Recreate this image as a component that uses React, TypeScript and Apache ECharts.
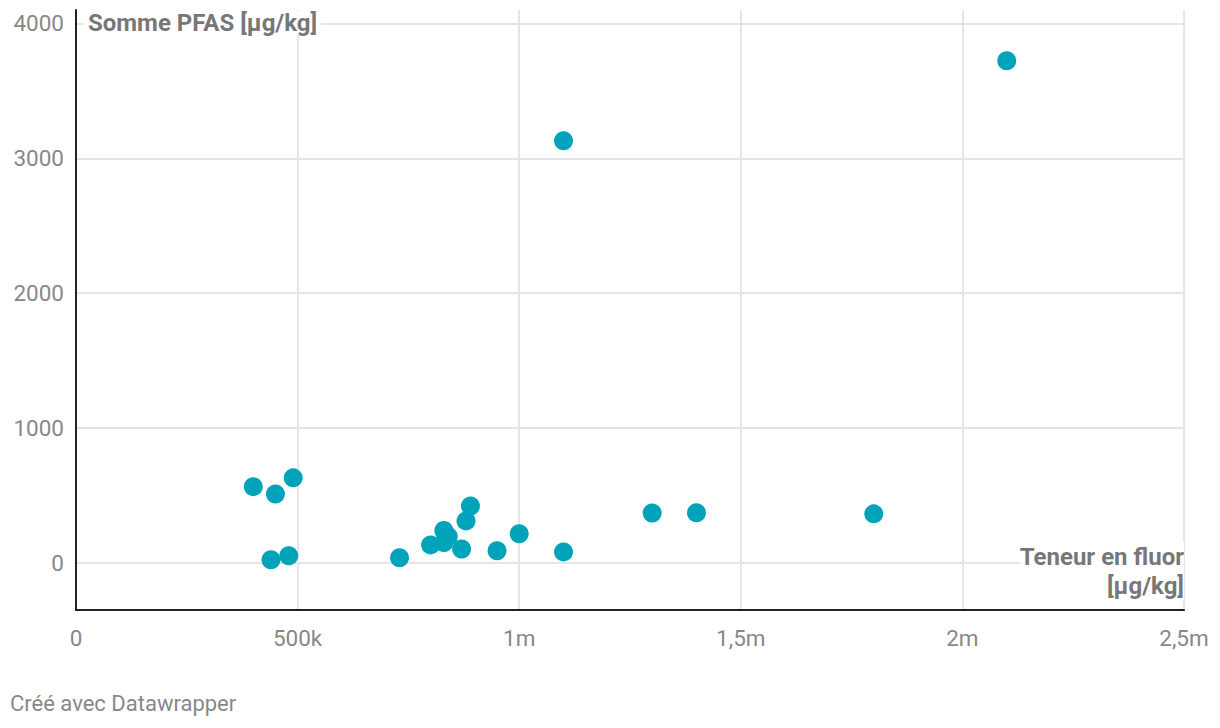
import React, { useEffect, useRef } from "react";
import * as echarts from "echarts";

const fluor = [400000, 450000, 490000, 440000, 480000, 730000, 800000, 830000, 840000, 830000, 870000, 880000, 890000, 950000, 1000000, 1100000, 1300000, 1400000, 1800000, 1100000, 2100000];
const pfas = [565, 510, 630, 22, 52, 37, 133, 240, 195, 150, 103, 311, 422, 89, 215, 81, 370, 372, 363, 3131, 3723];
const yTicks = [0, 1000, 2000, 3000, 4000];
const xTickLabels: Record<number, string> = { 0: "0", 500000: "500k", 1000000: "1m", 1500000: "1,5m", 2000000: "2m", 2500000: "2,5m" };
const yTitle = "Somme PFAS [µg/kg]";
const xTitle = "Teneur en fluor\n[µg/kg]";
const credit = "Créé avec Datawrapper";

export default function App() {
  const ref = useRef<HTMLDivElement>(null);
  useEffect(() => {
    document.body.style.margin = "0";
    const chart = echarts.init(ref.current!, null, { renderer: "svg" });
    const font = "Roboto, 'Noto Sans', sans-serif";
    chart.setOption({
      animation: false,
      textStyle: { fontFamily: font },
      grid: { left: 76, right: 36, top: 10, bottom: 118, containLabel: false },
      xAxis: {
        type: "value",
        min: 0,
        max: 2500000,
        interval: 500000,
        axisLine: { show: true, onZero: false, lineStyle: { color: "#222", width: 2 } },
        axisTick: { show: false },
        axisLabel: { color: "#888", fontSize: 22.5, margin: 16, fontFamily: font, formatter: (v: number) => xTickLabels[v] ?? String(v) },
        splitLine: { show: true, lineStyle: { color: "#e5e5e5", width: 2 } },
      },
      yAxis: {
        type: "value",
        min: -350,
        max: 4100,
        axisLine: { show: true, onZero: false, lineStyle: { color: "#222", width: 2 } },
        axisTick: { show: false, customValues: yTicks },
        axisLabel: { color: "#888", fontSize: 22.5, margin: 12, fontFamily: font, customValues: yTicks, formatter: (v: number) => String(v) },
        splitLine: { show: true, lineStyle: { color: "#e5e5e5", width: 2 } },
      },
      series: [
        {
          type: "scatter",
          symbolSize: 19,
          itemStyle: { color: "#00a3ba", opacity: 1 },
          data: fluor.map((x, i) => [x, pfas[i]]),
          z: 5,
        },
      ],
      graphic: [
        {
          type: "text",
          x: 84,
          y: 23,
          z: 10,
          style: {
            text: yTitle,
            fill: "#777",
            font: `bold 24px ${font}`,
            verticalAlign: "middle",
            backgroundColor: "#fff",
            padding: [0, 4, 0, 4],
          },
        },
        {
          type: "text",
          x: 1184,
          y: 542,
          z: 10,
          style: {
            text: xTitle,
            fill: "#777",
            font: `bold 24px ${font}`,
            align: "right",
            verticalAlign: "top",
            lineHeight: 29,
            backgroundColor: "#fff",
          },
        },
        {
          type: "text",
          x: 10,
          y: 703,
          style: { text: credit, fill: "#888", font: `22px ${font}`, verticalAlign: "middle" },
        },
      ],
    });
    return () => chart.dispose();
  }, []);
  return <div ref={ref} style={{ width: 1220, height: 728 }} />;
}
